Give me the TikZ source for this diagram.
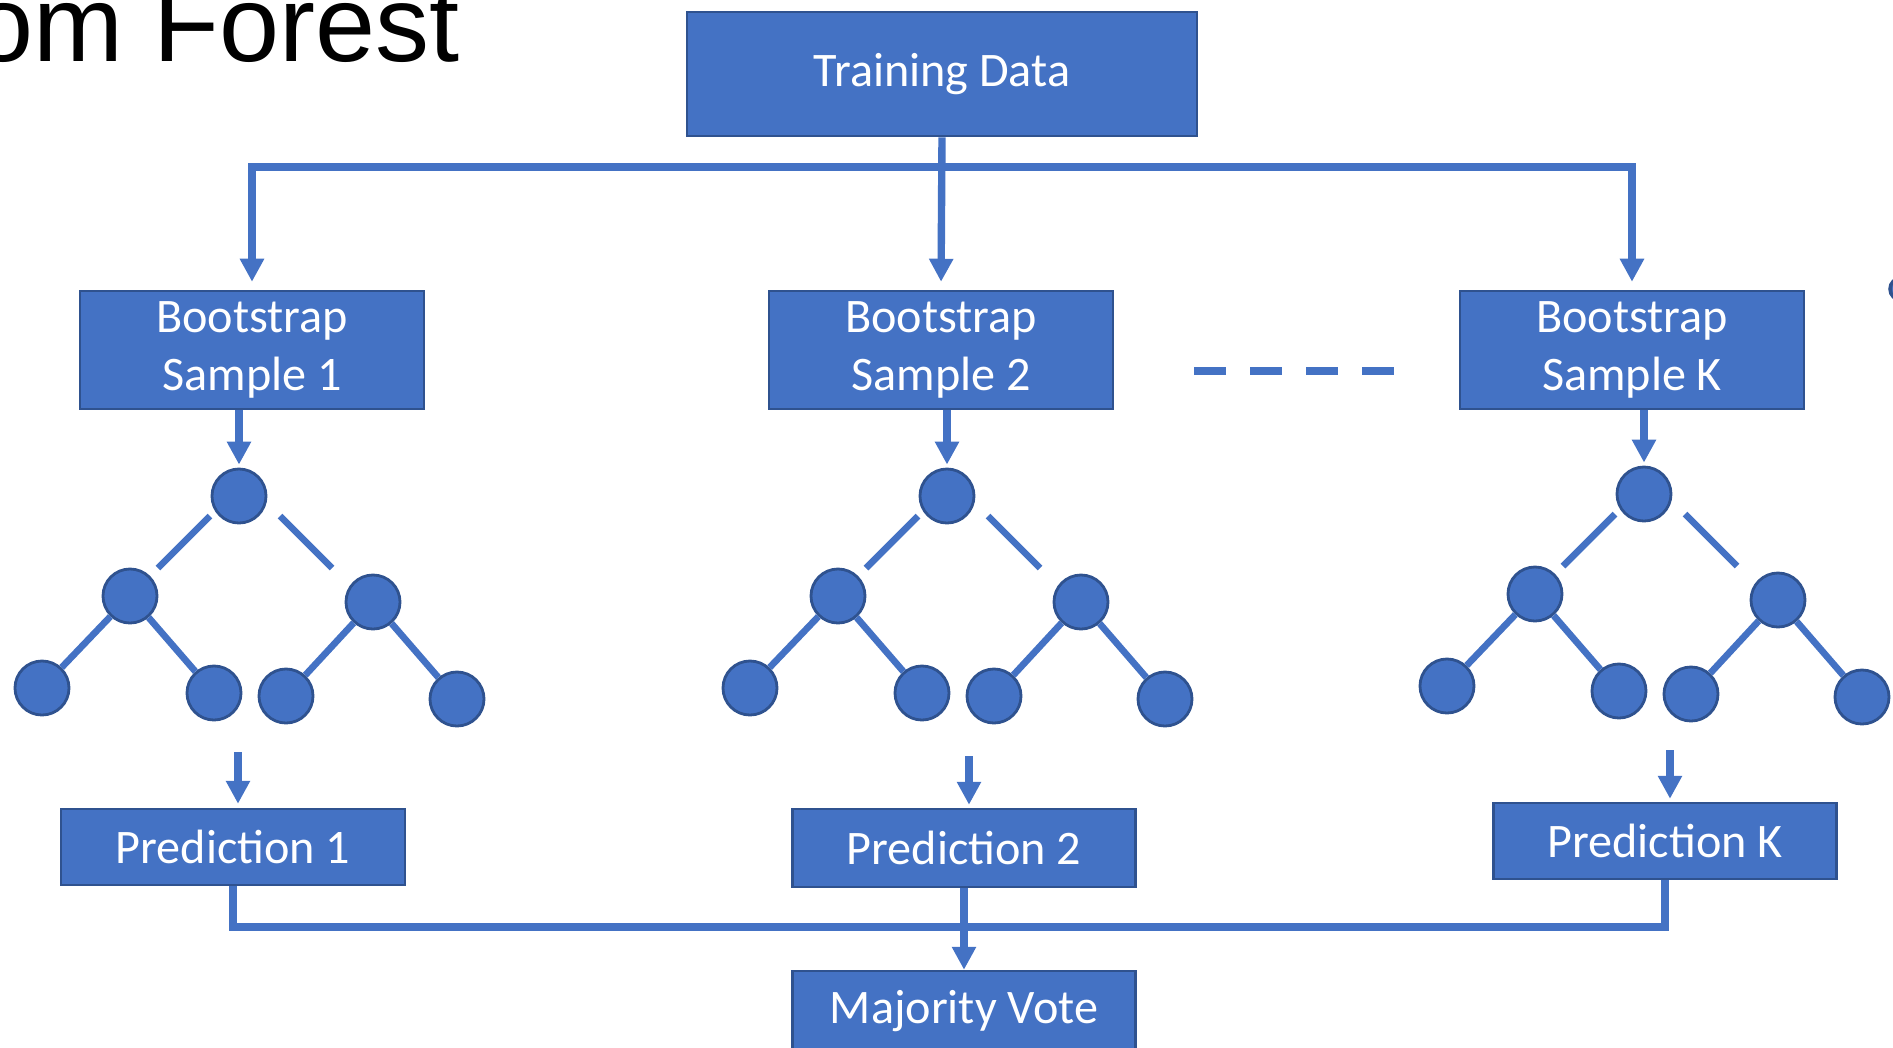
\documentclass[tikz,border=0pt]{standalone}
\usepackage{fontspec}
\setmainfont{Carlito}
\newfontfamily\titlefont{Liberation Sans}
\usetikzlibrary{arrows.meta}
\definecolor{ofblue}{HTML}{4472C4}
\definecolor{ofedge}{HTML}{2F528F}

\begin{document}
\begin{tikzpicture}[x=0.01cm, y=-0.01cm,
  box/.style={rectangle, draw=ofedge, line width=0.7pt, fill=ofblue, text=white, align=center, inner sep=0pt, font=\fontsize{13.7pt}{16.5pt}\selectfont},
  knot/.style={circle, draw=ofedge, line width=0.8pt, fill=ofblue, minimum size=0.54cm, inner sep=0pt},
  conn/.style={draw=ofblue, line width=2.1pt},
  arr/.style={conn, -{Triangle[width=0.23cm, length=0.23cm]}},
  twig/.style={draw=ofblue, line width=1.9pt}]
\useasboundingbox (0,0) rectangle (1893,1047);

% Title (cut by the page)
\node[anchor=base east, inner sep=0pt, font=\titlefont\fontsize{30.7pt}{30.7pt}\selectfont] (title) at (460,61) {om Forest};
\node[circle, draw=ofedge, line width=1pt, fill=ofblue, minimum size=0.22cm, inner sep=0pt] (edgemark) at (1901,289) {};

% Training data
\node[box, minimum width=5.1cm, minimum height=1.24cm] (train) at (942,74) {Training Data};

% Bootstrap samples
\node[box, minimum width=3.44cm, minimum height=1.18cm] (boot1) at (252,350) {Bootstrap\\Sample 1};
\node[box, minimum width=3.44cm, minimum height=1.18cm] (boot2) at (941,350) {Bootstrap\\Sample 2};
\node[box, minimum width=3.44cm, minimum height=1.18cm] (bootK) at (1632,350) {Bootstrap\\Sample K};

% Split
\coordinate (bus) at (941,167);
\draw[arr, shorten >=0.08cm] (train.south) -- (boot2.north);
\draw[arr, shorten >=0.08cm] (bus) -| (boot1.north);
\draw[arr, shorten >=0.08cm] (bus) -| (bootK.north);

% More samples
\coordinate (d1) at (1194,371);
\coordinate (d2) at (1394,371);
\draw[draw=ofblue, line width=2.4pt, dash pattern=on 0.32cm off 0.24cm] (d1) -- (d2);

% Trees
\foreach \t/\rx/\ry in {1/239/496, 2/947/496, K/1644/494}{
  \node[knot] (t\t) at (\rx,\ry) {};
  \node[knot] (tl\t) at (\rx-109,\ry+100) {};
  \node[knot] (tr\t) at (\rx+134,\ry+106) {};
  \node[knot] (tll\t) at (\rx-197,\ry+192) {};
  \node[knot] (tlr\t) at (\rx-25,\ry+197) {};
  \node[knot] (trl\t) at (\rx+47,\ry+200) {};
  \node[knot] (trr\t) at (\rx+218,\ry+203) {};
  \draw[twig] (t\t.center) ++(-29,20) -- ++(-52,52);
  \draw[twig] (t\t.center) ++(41,20) -- ++(52,52);
  \draw[twig] (tl\t) -- (tll\t);
  \draw[twig] (tl\t) -- (tlr\t);
  \draw[twig] (tr\t) -- (trl\t);
  \draw[twig] (tr\t) -- (trr\t);
}

% Samples into trees
\draw[arr, shorten >=0.03cm] (boot1.south -| t1) -- (t1.north);
\draw[arr, shorten >=0.03cm] (boot2.south -| t2) -- (t2.north);
\draw[arr, shorten >=0.03cm] (bootK.south -| tK) -- (tK.north);

% Predictions
\node[box, minimum width=3.44cm, minimum height=0.76cm] (pred1) at (233,847) {Prediction 1};
\node[box, minimum width=3.43cm, minimum height=0.78cm] (pred2) at (964,848) {Prediction 2};
\node[box, minimum width=3.43cm, minimum height=0.76cm] (predK) at (1665,841) {Prediction K};

\coordinate (o1) at (238,752);
\coordinate (o2) at (969,756);
\coordinate (oK) at (1670,750);
\draw[arr, shorten >=0.04cm] (o1) -- (o1 |- pred1.north);
\draw[arr, shorten >=0.03cm] (o2) -- (o2 |- pred2.north);
\draw[arr, shorten >=0.03cm] (oK) -- (oK |- predK.north);

% Vote
\node[box, minimum width=3.43cm, minimum height=0.8cm] (vote) at (964,1011) {Majority Vote};
\coordinate (vbus) at (962,927);
\draw[conn] (pred1.south) |- (vbus) -| (predK.south);
\draw[arr] (pred2.south) -- (vote.north);

\end{tikzpicture}
\end{document}
